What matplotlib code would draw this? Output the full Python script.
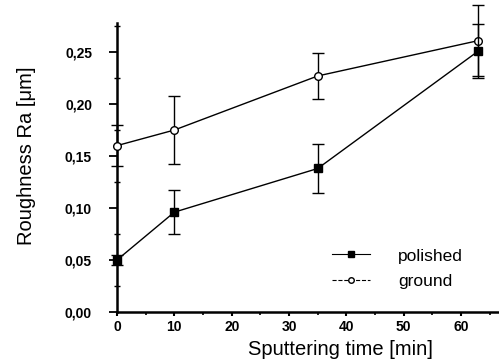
import numpy as np
import matplotlib.pyplot as plt
from matplotlib.lines import Line2D
from matplotlib.ticker import FuncFormatter, MultipleLocator

# Dados
tempo = [0, 10, 35, 63]
polido = [0.050, 0.096, 0.138, 0.251]
polido_err = [0.005, 0.021, 0.024, 0.026]
lixado = [0.160, 0.175, 0.227, 0.261]
lixado_err = [0.020, 0.033, 0.022, 0.034]

plt.rcParams["font.family"] = ["Liberation Sans", "DejaVu Sans"]

fig = plt.figure(figsize=(4.99, 3.64), dpi=100)
ax = fig.add_axes([0.2345, 0.143, 0.7655, 0.794])

for y, err, mk, face, z in [(lixado, lixado_err, "o", "white", 3),
                            (polido, polido_err, "s", "black", 4)]:
    cont = ax.errorbar(tempo, y, yerr=err, color="black", lw=1.0,
                       marker=mk, ms=5.5, mfc=face, mec="black", mew=1.0,
                       capsize=4, elinewidth=1.0, capthick=1.0, zorder=z)
    artistas = [cont.lines[0]] + list(cont.lines[1]) + list(cont.lines[2])
    for art in artistas:
        art.set_clip_on(False)

ax.set_xlim(0, 66.6)
ax.set_ylim(0, 0.278)
ax.spines["top"].set_visible(False)
ax.spines["right"].set_visible(False)
ax.spines["left"].set_linewidth(1.8)
ax.spines["bottom"].set_linewidth(1.8)

ax.xaxis.set_major_locator(MultipleLocator(10))
ax.xaxis.set_minor_locator(MultipleLocator(5))
ax.yaxis.set_major_locator(MultipleLocator(0.05))
ax.yaxis.set_minor_locator(MultipleLocator(0.025))
ax.yaxis.set_major_formatter(FuncFormatter(lambda v, p: f"{v:.2f}".replace(".", ",")))
ax.tick_params(axis="y", which="major", direction="out", length=6, width=1.3,
               labelsize=10, pad=12)
ax.tick_params(axis="y", which="minor", direction="inout", length=4, width=1.0)
ax.tick_params(axis="x", which="major", direction="out", length=3, width=1.5,
               labelsize=10, pad=3)
ax.tick_params(axis="x", which="minor", direction="out", length=2, width=1.2)
for lab in ax.get_xticklabels() + ax.get_yticklabels():
    lab.set_fontweight("bold")

ax.set_xlabel("Sputtering time [min]", fontsize=14.5)
ax.set_ylabel("Roughness Ra [\u03bcm]", fontsize=14.5)
ax.xaxis.set_label_coords(0.584, -0.098)
ax.yaxis.set_label_coords(-0.212, 0.54)

handles = [
    Line2D([], [], color="black", lw=0.8, ls="-", marker="s", ms=5, mfc="black"),
    Line2D([], [], color="black", lw=0.8, ls="--", marker="o", ms=4, mfc="white"),
]
ax.legend(handles, ["polished", "ground"], loc="lower right",
          bbox_to_anchor=(0.946, 0.025), frameon=False, fontsize=12.5,
          handlelength=2.2, handletextpad=1.6, labelspacing=0.6)

fig.savefig("out.png", dpi=100)
